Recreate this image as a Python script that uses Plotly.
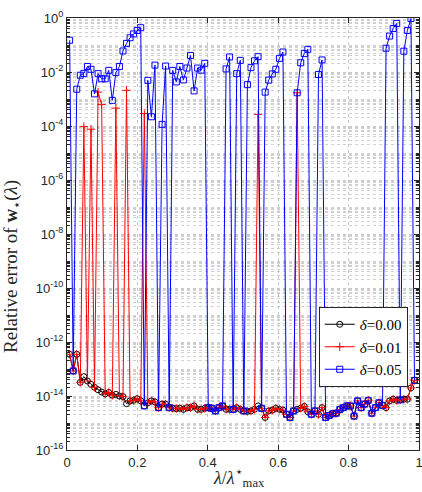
import plotly.graph_objects as go

# lambda / lambda*_max grid
lam = [0.0075, 0.0176, 0.0277, 0.0378, 0.0479, 0.0580, 0.0681, 0.0782, 0.0883, 0.0984,
       0.1085, 0.1186, 0.1287, 0.1388, 0.1489, 0.1590, 0.1691, 0.1792, 0.1893, 0.1994,
       0.2095, 0.2196, 0.2297, 0.2398, 0.2499, 0.2600, 0.2701, 0.2802, 0.2903, 0.3004,
       0.3105, 0.3206, 0.3307, 0.3408, 0.3509, 0.3610, 0.3711, 0.3812, 0.3913, 0.4014,
       0.4115, 0.4216, 0.4317, 0.4418, 0.4519, 0.4620, 0.4721, 0.4822, 0.4923, 0.5024,
       0.5125, 0.5226, 0.5327, 0.5428, 0.5529, 0.5630, 0.5731, 0.5832, 0.5933, 0.6034,
       0.6135, 0.6236, 0.6337, 0.6438, 0.6539, 0.6640, 0.6741, 0.6842, 0.6943, 0.7044,
       0.7145, 0.7246, 0.7347, 0.7448, 0.7549, 0.7650, 0.7751, 0.7852, 0.7953, 0.8054,
       0.8155, 0.8256, 0.8357, 0.8458, 0.8559, 0.8660, 0.8761, 0.8862, 0.8963, 0.9064,
       0.9165, 0.9266, 0.9367, 0.9468, 0.9569, 0.9670, 0.9771, 0.9872]

err_d000 = [3.5e-13, 8.5e-14, 3.5e-13, 3.2e-14, 5.2e-14, 3.6e-14, 2.7e-14, 2.1e-14, 1.7e-14, 1.4e-14,
            1.2e-14, 1.35e-14, 1.07e-14, 1.15e-14, 1.0e-14, 9.5e-15, 5.2e-15, 6.6e-15, 6.9e-15, 7.9e-15,
            6.6e-15, 4.3e-15, 5.6e-15, 6.6e-15, 6.0e-15, 3.7e-15, 5.0e-15, 5.0e-15, 3.7e-15, 3.5e-15,
            3.4e-15, 3.5e-15, 3.2e-15, 3.7e-15, 3.7e-15, 4.3e-15, 3.2e-15, 3.2e-15, 3.5e-15, 3.7e-15,
            3.5e-15, 2.8e-15, 3.7e-15, 4.3e-15, 3.2e-15, 3.2e-15, 3.2e-15, 3.7e-15, 3.2e-15, 2.8e-15,
            2.7e-15, 2.8e-15, 3.2e-15, 4.3e-15, 3.5e-15, 1.6e-15, 2.8e-15, 3.0e-15, 3.5e-15, 3.2e-15,
            3.0e-15, 2.1e-15, 1.6e-15, 2.8e-15, 3.2e-15, 3.5e-15, 4.1e-15, 2.6e-15, 2.1e-15, 2.8e-15,
            2.1e-15, 3.7e-15, 1.6e-15, 1.9e-15, 2.2e-15, 2.3e-15, 3.2e-15, 3.7e-15, 4.3e-15, 4.3e-15,
            1.8e-15, 6.6e-15, 3.7e-15, 5.0e-15, 6.9e-15, 2.3e-15, 3.7e-15, 5.6e-15, 4.5e-15, 3.7e-15,
            6.6e-15, 7.6e-15, 6.9e-15, 7.2e-15, 7.6e-15, 7.6e-15, 2.0e-14, 3.8e-14]

err_d001 = [3.5e-13, 8.5e-14, 3.5e-13, 3.2e-14, 9.5e-5, 3.6e-14, 7.6e-5, 2.1e-14, 1.8e-3, 6.2e-4,
            1.2e-14, 1.35e-14, 1.07e-14, 4.6e-4, 1.0e-14, 9.5e-15, 2.1e-3, 6.6e-15, 6.9e-15, 7.9e-15,
            6.6e-15, 2.9e-4, 5.6e-15, 6.6e-15, 6.0e-15, 3.7e-15, 5.0e-15, 5.0e-15, 3.7e-15, 3.5e-15,
            3.4e-15, 3.5e-15, 3.2e-15, 3.7e-15, 3.7e-15, 4.3e-15, 3.2e-15, 3.2e-15, 3.5e-15, 3.7e-15,
            3.5e-15, 2.8e-15, 3.7e-15, 4.3e-15, 3.2e-15, 3.2e-15, 3.2e-15, 3.7e-15, 3.2e-15, 2.8e-15,
            2.7e-15, 2.8e-15, 3.2e-15, 2.7e-4, 3.5e-15, 1.6e-15, 2.8e-15, 3.0e-15, 3.5e-15, 3.2e-15,
            3.0e-15, 2.1e-15, 1.6e-15, 2.8e-15, 1.7e-3, 3.5e-15, 4.1e-15, 2.6e-15, 2.1e-15, 2.8e-15,
            2.1e-15, 3.7e-15, 1.6e-15, 1.9e-15, 2.2e-15, 2.3e-15, 3.2e-15, 3.7e-15, 4.3e-15, 4.3e-15,
            1.8e-15, 6.6e-15, 3.7e-15, 5.0e-15, 6.9e-15, 2.3e-15, 3.7e-15, 5.6e-15, 4.5e-15, 3.7e-15,
            6.6e-15, 7.6e-15, 6.9e-15, 7.2e-15, 7.6e-15, 7.6e-15, 2.0e-14, 3.8e-14]

err_d005 = [0.15, 8.5e-14, 2.3e-3, 7.6e-3, 8.9e-3, 1.6e-2, 1.26e-2, 1.55e-3, 8.7e-3, 5.6e-3,
            5.6e-3, 1.15e-2, 8.9e-4, 9.5e-3, 1.6e-2, 6.0e-2, 0.115, 0.186, 0.257, 0.347,
            0.437, 4.3e-15, 4.9e-3, 2.2e-4, 1.8e-2, 3.7e-15, 1.15e-4, 1.66e-2, 3.7e-15, 1.15e-2,
            4.3e-3, 1.6e-2, 5.1e-3, 1.4e-2, 4.1e-2, 2.0e-3, 1.4e-2, 1.17e-2, 2.1e-2, 3.7e-15,
            3.5e-15, 2.8e-15, 3.7e-15, 4.3e-15, 1.3e-2, 3.6e-2, 3.2e-15, 8.7e-3, 2.7e-2, 2.8e-15,
            3.4e-3, 1.45e-2, 2.6e-2, 3.7e-2, 3.5e-15, 1.8e-3, 5.0e-3, 8.5e-3, 1.26e-2, 3.2e-2,
            5.5e-2, 2.1e-15, 1.6e-15, 2.8e-15, 1.7e-3, 2.2e-2, 4.8e-2, 6.9e-2, 2.1e-15, 2.8e-15,
            8.1e-3, 2.8e-2, 1.6e-15, 1.9e-15, 2.2e-15, 2.3e-15, 3.2e-15, 3.7e-15, 4.3e-15, 4.3e-15,
            1.8e-15, 6.6e-15, 3.7e-15, 5.0e-15, 6.9e-15, 2.3e-15, 3.7e-15, 5.6e-15, 4.5e-15, 7.6e-2,
            0.214, 0.41, 0.63, 7.2e-15, 5.9e-2, 0.347, 0.955, 3.8e-14]

series_names = ["<i>δ</i>=0.00", "<i>δ</i>=0.01", "<i>δ</i>=0.05"]

x_ticks = [0, 0.2, 0.4, 0.6, 0.8, 1]
x_ticktext = ["0", "0.2", "0.4", "0.6", "0.8", "1"]
y_exponents = [0, -2, -4, -6, -8, -10, -12, -14, -16]
x_title = "<i>λ</i>/<i>λ</i><sup>⋆</sup><sub>max</sub>"
y_title = "Relative error of <b>w</b><sub>⋆</sub>(<i>λ</i>)"

y_tickvals = [10.0 ** e for e in y_exponents]
y_ticktext = ["10<sup>%d</sup>" % e for e in y_exponents]
y_minor = [m * 10.0 ** e for e in range(-16, 0) for m in range(1, 10)]

fig = go.Figure()
styles = [
    (err_d000, "#000000", "circle-open"),
    (err_d001, "#ff0000", "cross-thin-open"),
    (err_d005, "#0000ff", "square-open"),
]
for (vals, col, sym), name in zip(styles, series_names):
    fig.add_trace(go.Scatter(
        x=lam, y=vals, mode="lines+markers", name=name,
        line=dict(color=col, width=1),
        marker=dict(symbol=sym, size=6, color=col, line=dict(color=col, width=1)),
    ))

axis_font = dict(family="Liberation Sans, Arial, sans-serif", size=13, color="#262626")
serif = "Liberation Serif, Times New Roman, serif"

fig.update_layout(
    width=422, height=492,
    margin=dict(l=67, r=3, t=18, b=42),
    paper_bgcolor="white", plot_bgcolor="white",
    showlegend=True,
    legend=dict(
        x=0.968, y=0.331, xanchor="right", yanchor="top",
        bgcolor="white", bordercolor="#262626", borderwidth=1,
        font=dict(family=serif, size=15, color="#000000"),
        itemwidth=30, tracegroupgap=0,
    ),
    xaxis=dict(
        range=[0, 1], tickmode="array", tickvals=x_ticks, ticktext=x_ticktext,
        ticks="inside", ticklen=5, tickcolor="#262626",
        showline=True, linecolor="#262626", linewidth=1, mirror="allticks",
        showgrid=True, gridcolor="#c8c8c8", griddash="dot", gridwidth=1,
        zeroline=False, tickfont=axis_font, automargin=False,
        ticklabeloverflow="allow",
    ),
    yaxis=dict(
        type="log", range=[-16, 0], tickmode="array",
        tickvals=y_tickvals, ticktext=y_ticktext,
        ticks="inside", ticklen=5, tickcolor="#262626",
        showline=True, linecolor="#262626", linewidth=1, mirror="allticks",
        showgrid=True, gridcolor="#c8c8c8", griddash="dot", gridwidth=1,
        zeroline=False, tickfont=axis_font, automargin=False,
        ticklabeloverflow="allow",
        minor=dict(tickmode="array", tickvals=y_minor, ticks="inside", ticklen=3,
                   tickcolor="#262626", showgrid=True, gridcolor="#d0d0d0",
                   griddash="dot", gridwidth=1),
    ),
    annotations=[
        dict(text=x_title, xref="paper", yref="paper", x=0.49, y=-0.097,
             xanchor="center", yanchor="bottom", showarrow=False,
             font=dict(family=serif, size=18, color="#262626")),
        dict(text=y_title, xref="paper", yref="paper", x=-0.115, y=0.425,
             xanchor="right", yanchor="middle", textangle=-90, showarrow=False,
             font=dict(family=serif, size=19, color="#262626")),
    ],
)

# remove the default page margin so the 422x492 figure fills the window exactly
fig.write_html(
    "out.html",
    config={"displayModeBar": False},
    post_script="document.body.style.margin='0px';"
                "document.documentElement.style.overflow='hidden';",
)
